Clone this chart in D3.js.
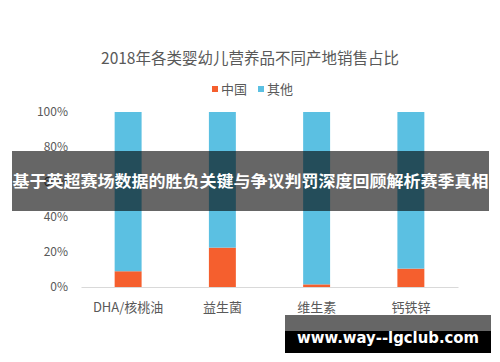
<!DOCTYPE html>
<html><head><meta charset="utf-8">
<script src="https://cdn.jsdelivr.net/npm/d3@7"></script>
<style>body{margin:0;background:#fff}svg{display:block}</style>
</head><body>
<svg id="c" width="500" height="362"></svg>
<script>
const categories = ["DHA/核桃油", "益生菌", "维生素", "钙铁锌"];
const chinaShare = [9, 22.5, 1.5, 10.5];
const otherShare = [91, 77.5, 98.5, 89.5];
const seriesNames = ["中国", "其他"];
const seriesColors = ["#f55f2e", "#5bc0e2"];
const yTicks = [0, 20, 40, 60, 80, 100];
const titleText = "2018年各类婴幼儿营养品不同产地销售占比";
const bannerText = "基于英超赛场数据的胜负关键与争议判罚深度回顾解析赛季真相";
const siteText = "www.way--lgclub.com";

const font = "'Noto Sans CJK SC','Noto Sans',sans-serif";
const svg = d3.select("#c");
const x = d3.scaleBand().domain(categories).range([81, 458]).paddingInner(0.714).paddingOuter(0.357);
const y = d3.scaleLinear().domain([0, 100]).range([287, 112]);

svg.append("text").attr("x", 250).attr("y", 64).attr("text-anchor", "middle")
  .attr("font-family", font).attr("font-size", 15.5).attr("fill", "#595959").text(titleText);

// legend
const leg = svg.append("g");
const legX = [212, 258];
seriesNames.forEach((n, i) => {
  leg.append("rect").attr("x", legX[i]).attr("y", 86).attr("width", 6).attr("height", 6).attr("fill", seriesColors[i]);
  leg.append("text").attr("x", legX[i] + 9).attr("y", 94).attr("font-family", font).attr("font-size", 13)
    .attr("fill", "#595959").text(n);
});

// y axis labels
const yAxis = d3.axisLeft(y).tickValues(yTicks).tickFormat(d => d + "%").tickSize(0).tickPadding(0);
const ya = svg.append("g").attr("transform", "translate(68,0)").call(yAxis);
ya.select(".domain").remove();
ya.selectAll("text").attr("font-family", font).attr("font-size", 12).attr("fill", "#595959");

// bars
const stackData = categories.map((c, i) => ({cat: c, "中国": chinaShare[i], "其他": otherShare[i]}));
const stacked = d3.stack().keys(seriesNames)(stackData);
stacked.forEach((s, si) => {
  svg.append("g").selectAll("rect").data(s).join("rect")
    .attr("x", d => x(d.data.cat)).attr("width", x.bandwidth())
    .attr("y", d => y(d[1])).attr("height", d => y(d[0]) - y(d[1]))
    .attr("fill", seriesColors[si]);
});

// x axis
const xAxis = d3.axisBottom(x).tickSize(0).tickPadding(16);
const xa = svg.append("g").attr("transform", "translate(0,287)").call(xAxis);
xa.select(".domain").attr("stroke", "#d9d9d9");
xa.selectAll("text").attr("font-family", font).attr("font-size", 13).attr("fill", "#595959");

// overlay banner
svg.append("rect").attr("x", 12).attr("y", 151).attr("width", 477).attr("height", 60).attr("fill", "rgba(0,0,0,0.6)");
svg.append("text").attr("x", 250.5).attr("y", 187).attr("text-anchor", "middle")
  .attr("font-family", font).attr("font-weight", "bold").attr("font-size", 16).attr("fill", "#fff")
  .attr("textLength", 476).attr("lengthAdjust", "spacingAndGlyphs").text(bannerText);

// site watermark
svg.append("rect").attr("x", 285).attr("y", 315).attr("width", 206).attr("height", 16).attr("fill", "rgba(0,0,0,0.6)");
svg.append("rect").attr("x", 285).attr("y", 331).attr("width", 206).attr("height", 22).attr("fill", "#000");
svg.append("text").attr("x", 297).attr("y", 343)
  .attr("font-family", "'DejaVu Sans',sans-serif").attr("font-weight", "bold").attr("font-size", 16).attr("fill", "#fff")
  .attr("textLength", 182).attr("lengthAdjust", "spacingAndGlyphs").text(siteText);
</script>
</body></html>
